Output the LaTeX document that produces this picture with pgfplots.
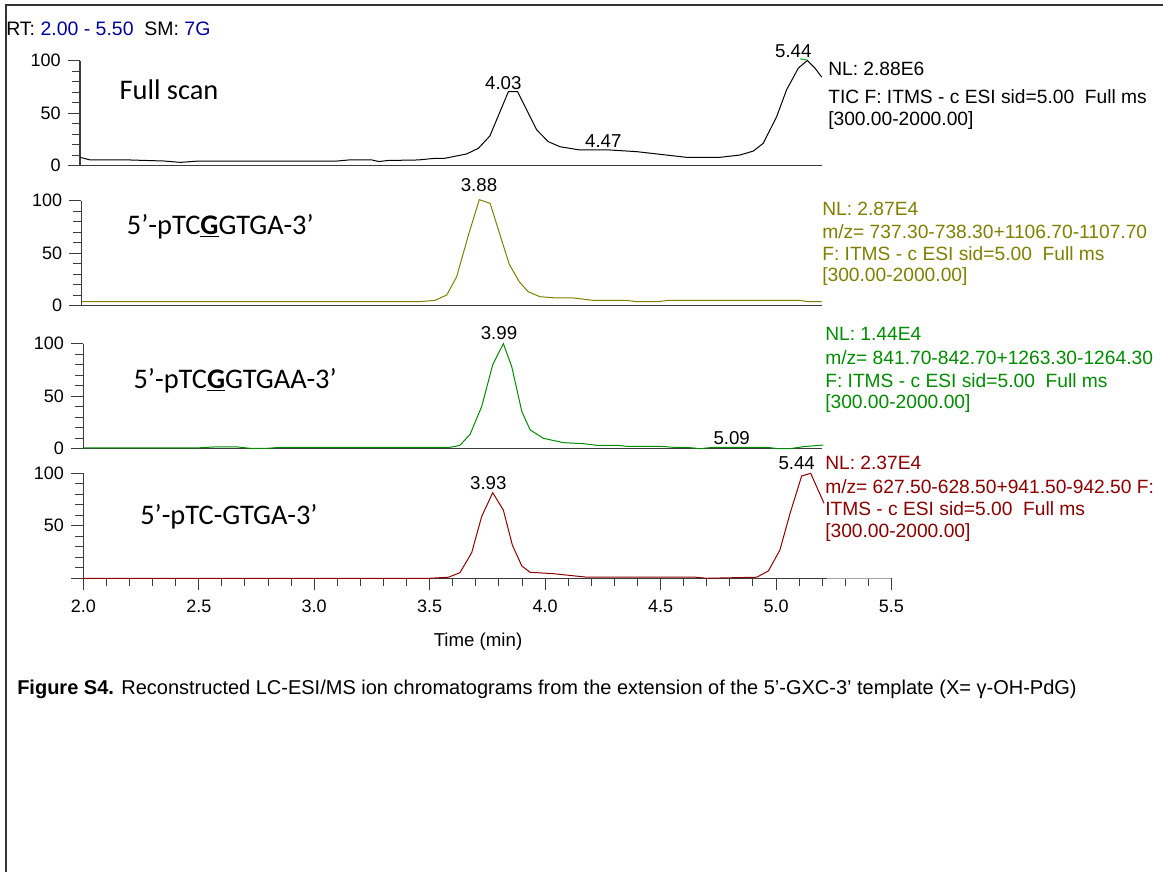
\documentclass[border=0pt]{standalone}
\usepackage{fontspec}
\setmainfont{Liberation Sans}
\newfontfamily\carlito{Carlito}
\usepackage{pgfplots}
\pgfplotsset{compat=1.18}
\definecolor{olivec}{RGB}{128,128,0}
\definecolor{greenc}{RGB}{0,140,0}
\definecolor{redc}{RGB}{139,0,0}
\definecolor{bluec}{RGB}{0,0,160}
\definecolor{axgray}{RGB}{60,60,60}

\pgfplotsset{chrom/.style={
  scale only axis, height=78.75pt, ymin=0, ymax=100, xmax=5.2,
  enlargelimits=false, clip=false,
  axis x line=bottom, axis y line=left,
  axis line style={-, axgray, line width=0.9pt},
  every tick/.style={axgray, line width=0.7pt},
  tick align=outside, major tick length=9pt, minor tick length=6pt,
  ytick={0,50,100}, minor ytick={10,20,30,40,60,70,80,90},
  xtick=\empty,
  tick label style={font=\fontsize{13.5}{16}\selectfont},
  yticklabel style={xshift=-2pt},
  /pgf/number format/assume math mode=true,
  every axis plot post/.append style={line width=0.75pt, mark=none},
}}

\begin{document}
\begin{tikzpicture}
\useasboundingbox (0,0) rectangle (872.25pt,-653.25pt);

% Panel 1: Full scan
\begin{axis}[chrom, xmin=1.9857, width=556.6pt, at={(60pt,-124.3pt)}, anchor=south west]
\addplot[black] coordinates {
(1.986,8) (2.03,5.5) (2.20,5.5) (2.35,4.5) (2.42,3.2) (2.50,4.5) (2.70,4.5) (3.00,4.5)
(3.10,4.5) (3.15,5.5) (3.25,5.5) (3.28,4) (3.32,5) (3.45,5.5) (3.52,7) (3.566,7.1)
(3.660,11.2) (3.711,16.6) (3.761,28.4) (3.841,70.5) (3.881,70.5) (3.964,34.1) (4.014,22.9)
(4.065,18.1) (4.151,15.0) (4.281,15.0) (4.397,13.4) (4.613,8.0) (4.757,8.0) (4.844,10.2)
(4.902,14.0) (4.945,21.4) (5.003,46.8) (5.046,72.3) (5.097,93.0) (5.136,100.3) (5.169,93)
(5.198,84.4)};
\addplot[green!70!black, line width=0.6pt] coordinates {(5.105,101.8) (5.133,100.8)};
\end{axis}

% Panel 2
\begin{axis}[chrom, xmin=1.992, width=555.5pt, at={(61.1pt,-229.3pt)}, anchor=south west]
\addplot[olivec] coordinates {
(1.992,3.8) (3.45,3.8) (3.523,5.1) (3.574,10.2) (3.617,27.6) (3.668,67.3) (3.715,101)
(3.762,97.5) (3.805,67.3) (3.845,39.4) (3.888,22.9) (3.927,13.3) (3.978,8.6) (4.035,7.6)
(4.115,7.6) (4.209,5.1) (4.353,5.1) (4.397,3.8) (4.483,3.8) (4.534,5.1) (5.104,5.1)
(5.140,3.8) (5.198,3.8)};
\end{axis}

% Panel 3
\begin{axis}[chrom, xmin=2.0, width=554.2pt, at={(62.5pt,-336.5pt)}, anchor=south west]
\addplot[greenc] coordinates {
(2.0,0.8) (2.5,0.8) (2.58,1.8) (2.66,1.8) (2.72,0.4) (2.80,0.4) (2.85,1.2) (3.588,1.3)
(3.631,3.2) (3.675,13.7) (3.725,40.1) (3.773,80) (3.819,100) (3.855,78.3) (3.899,35.3)
(3.935,17.9) (3.992,9.9) (4.079,5.7) (4.165,4.8) (4.223,3.2) (4.310,3.2) (4.353,2.3)
(4.498,2.3) (4.555,1.3) (4.613,1.3) (4.671,0) (4.728,1.3) (4.960,1.3) (5.010,0)
(5.061,0) (5.118,1.9) (5.205,3.5)};
\end{axis}

% Panel 4
\begin{axis}[chrom, xmin=2.0, xmax=5.5, width=606.1pt, at={(62.5pt,-433.7pt)}, anchor=south west,
  yticklabels={,50,100},
  xtick={2,2.5,...,5.5}, minor x tick num=4,
  xticklabel style={yshift=-4pt, /pgf/number format/.cd, fixed, fixed zerofill, precision=1}]
\addplot[redc] coordinates {
(2.0,0) (3.50,0) (3.581,1) (3.631,5.3) (3.682,24.4) (3.725,58.7) (3.773,81.5) (3.819,65)
(3.858,31.7) (3.899,11.7) (3.935,5.7) (4.035,4.4) (4.173,1.2) (4.642,1.2) (4.700,0)
(4.916,1) (4.967,7) (5.017,27) (5.061,62) (5.111,97.4) (5.150,100) (5.208,71.4)};
\addplot[gray!70, line width=0.9pt] coordinates {(5.22,0) (5.5,0)};
\end{axis}

\begin{scope}[x=0.75pt, y=-0.75pt]
% frame
\draw[line width=1.1pt, black!80] (6,872) -- (6,5) -- (1164,5);
% header
\node[anchor=base west, inner sep=0, font=\fontsize{14.6}{17}\selectfont] at (6,35)
  {RT: \textcolor{bluec}{2.00 - 5.50}\ \ SM: \textcolor{bluec}{7G}};
% panel titles
\node[anchor=base west, inner sep=0, font=\carlito\fontsize{21.3}{24}\selectfont] at (119.3,99.3) {Full scan};
\node[anchor=base west, inner sep=0, font=\carlito\fontsize{21.3}{24}\selectfont] at (126.7,234.3) {5’-pTC\textbf{\underline{G}}GTGA-3’};
\node[anchor=base west, inner sep=0, font=\carlito\fontsize{21.3}{24}\selectfont] at (133.3,388.3) {5’-pTC\textbf{\underline{G}}GTGAA-3’};
\node[anchor=base west, inner sep=0, font=\carlito\fontsize{21.3}{24}\selectfont] at (140,524) {5’-pTC-GTGA-3’};
% peak labels
\begin{scope}[every node/.style={inner sep=0, font=\fontsize{14}{16}\selectfont}]
\node at (503.3,83) {4.03};
\node at (603.3,141) {4.47};
\node at (793.3,51.2) {5.44};
\node at (479,185.3) {3.88};
\node at (499,333.3) {3.99};
\node at (731.7,438.3) {5.09};
\node at (488.3,482.7) {3.93};
\node at (796.7,462.7) {5.44};
\end{scope}
% right-side annotations
\begin{scope}[every node/.style={anchor=base west, inner sep=0, font=\fontsize{14.4}{17}\selectfont}]
\node at (828,75) {NL: 2.88E6};
\node at (828,103.3) {TIC F: ITMS - c ESI sid=5.00\ \ Full ms};
\node at (828,125) {[300.00-2000.00]};
\node[text=olivec] at (822,215) {NL: 2.87E4};
\node[text=olivec] at (822,238) {m/z= 737.30-738.30+1106.70-1107.70};
\node[text=olivec] at (822,260) {F: ITMS - c ESI sid=5.00\ \ Full ms};
\node[text=olivec] at (822,281) {[300.00-2000.00]};
\node[text=greenc] at (825,340) {NL: 1.44E4};
\node[text=greenc] at (825,364) {m/z= 841.70-842.70+1263.30-1264.30};
\node[text=greenc] at (825,387) {F: ITMS - c ESI sid=5.00\ \ Full ms};
\node[text=greenc] at (825,408) {[300.00-2000.00]};
\node[text=redc] at (825,469.5) {NL: 2.37E4};
\node[text=redc] at (825,493) {m/z= 627.50-628.50+941.50-942.50 F:};
\node[text=redc] at (825,515) {ITMS - c ESI sid=5.00\ \ Full ms};
\node[text=redc] at (825,537) {[300.00-2000.00]};
\end{scope}
% axis title
\node[anchor=base, inner sep=0, font=\fontsize{14}{16}\selectfont] at (478,646) {Time (min)};
% caption
\node[anchor=base west, inner sep=0, font=\fontsize{15}{17}\selectfont] at (17,694)
  {\textbf{Figure S4.} Reconstructed LC-ESI/MS ion chromatograms from the extension of the 5’-GXC-3’ template (X= γ-OH-PdG)};
\end{scope}
\end{tikzpicture}
\end{document}
